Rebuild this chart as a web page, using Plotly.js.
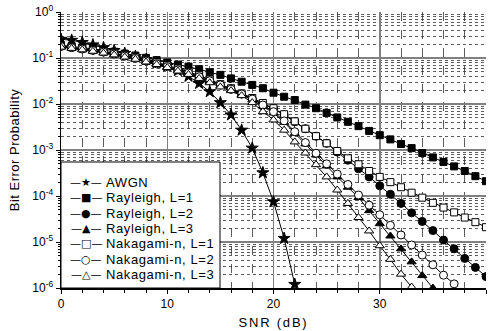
<!DOCTYPE html>
<html><head><meta charset="utf-8">
<script src="https://cdn.plot.ly/plotly-3.0.1.min.js"></script>
<style>html,body{margin:0;padding:0;background:#fff}</style>
</head><body><div id="chart" style="width:492px;height:331px"></div>
<script>
// SNR (dB) points
const snr = [0,1,2,3,4,5,6,7,8,9,10,11,12,13,14,15,16,17,18,19,20,21,22,23,24,25,26,27,28,29,30,31,32,33,34,35,36,37,38,39,40];

const awgn = [0.255,0.243,0.218,0.193,0.168,0.146,0.126,0.108,0.092,0.079,0.067,0.053,0.04,0.028,0.0185,0.0107,0.0058,0.0027,0.0011,0.00032,0.000075,0.000012,0.0000012];

const rayL1 = [0.19,0.18,0.17,0.16,0.148,0.137,0.125,0.113,0.101,0.09,0.08,0.072,0.065,
  0.057,0.049,0.043,0.036,0.0305,0.026,0.022,0.0176,0.0144,0.0122,
  0.0097,0.0081,0.0064,0.0051,0.0041,0.0033,0.0026,0.0021,0.0017,0.00135,
  0.0011,0.00086,0.00069,0.00055,0.00044,0.00035,0.00027,0.00021];

const rayL2 = [0.18,0.17,0.158,0.148,0.136,0.124,0.112,0.1,0.088,0.077,
  0.067,0.057,0.048,0.04,0.033,0.026,0.021,0.0165,0.013,0.0101,
  0.0079,0.0058,0.0041,0.0029,0.002,0.0014,0.0009,0.0006,0.00039,0.00026,
  0.000167,0.000109,0.000069,0.000043,0.000028,0.0000177,0.000011,0.0000071,0.0000044,0.0000028,0.00000177];

const rayL3 = [0.176,0.166,0.155,0.144,0.132,0.12,0.108,0.096,0.084,0.074,0.064,0.054,0.046,0.038,0.031,0.025,0.0205,
  0.016,0.0122,0.009,0.0064,0.004,0.0023,0.00135,0.00078,0.00045,0.00026,0.000155,0.000093,
  0.000048,0.000025,0.0000135,0.0000071,0.0000037,0.00000186,0.000001];

const nakL1 = [0.182,0.172,0.161,0.15,0.139,0.127,0.115,0.103,0.091,0.08,
  0.069,0.059,0.05,0.042,0.034,0.027,0.022,0.017,0.0135,0.0105,
  0.0081,0.006,0.0042,0.0029,0.002,0.0014,0.00095,0.00066,0.00049,0.00035,
  0.00026,0.0002,0.000155,0.000118,0.000092,0.000071,0.000056,0.000044,0.000034,0.000027,0.000021];

const nakL2 = [0.178,0.168,0.157,0.146,0.134,0.122,0.11,0.098,0.086,0.075,0.065,0.055,0.047,0.039,0.032,0.026,0.021,
  0.0165,0.0128,0.0095,0.0068,0.0043,0.0025,0.00145,0.00085,0.0005,0.0003,0.000178,0.000105,
  0.000063,0.000039,0.000023,0.0000142,0.0000086,0.0000052,0.0000032,0.0000019,0.00000123];

const nakL3 = [0.172,0.162,0.151,0.14,0.128,0.117,0.105,0.094,0.082,0.072,0.062,0.052,0.044,0.036,0.029,0.0235,
  0.0195,0.0152,0.0107,0.0068,0.0045,0.0027,0.0015,0.00086,0.00048,0.00026,0.000135,0.000069,0.000034,
  0.0000174,0.0000083,0.0000042,0.000002,0.00000105];

const names = ['AWGN','Rayleigh, L=1','Rayleigh, L=2','Rayleigh, L=3','Nakagami-n, L=1','Nakagami-n, L=2','Nakagami-n, L=3'];
const legendGlyphs = ['\u2605','\u25A0','\u25CF','\u25B2','\u25A1','\u25CB','\u25B3'];
const yTickVals = [1e-6,1e-5,1e-4,1e-3,1e-2,1e-1,1];
const yTickText = ['10<sup>-6</sup>','10<sup>-5</sup>','10<sup>-4</sup>','10<sup>-3</sup>','10<sup>-2</sup>','10<sup>-1</sup>','10<sup>0</sup>'];
const xTickVals = [0,10,20,30,40];

// minor grid positions for the log axis (2..9 within each decade)
const yMinor = [];
for (let e = -6; e < 0; e++) for (let m = 2; m <= 9; m++) yMinor.push(m * Math.pow(10, e));

const series = [
  {y: awgn,  sym: 'star',        fill: 'black', size: 9},
  {y: rayL1, sym: 'square',      fill: 'black', size: 7},
  {y: rayL2, sym: 'circle',      fill: 'black', size: 8},
  {y: rayL3, sym: 'triangle-up', fill: 'black', size: 8},
  {y: nakL1, sym: 'square',      fill: 'white', size: 7},
  {y: nakL2, sym: 'circle',      fill: 'white', size: 8},
  {y: nakL3, sym: 'triangle-up', fill: 'white', size: 8}
];

const traces = series.map((s, i) => ({
  type: 'scatter', mode: 'lines+markers', name: names[i],
  x: snr.slice(0, s.y.length), y: s.y,
  line: {color: 'black', width: 1},
  marker: {symbol: s.sym, size: s.size, color: s.fill, line: {color: 'black', width: 1}}
}));

// Legend box drawn in paper coordinates (plot area 425 x 276 px)
const plotW = 425, plotH = 276;
const legBox = {w: 159, h: 126};
const legFirstRow = 105.3, legRowStep = 15.28; // px above plot bottom, row spacing
const legGlyphX = 24.5, legTextX = 43;          // px from plot left
const spaced = (t, ls) => '<span style="letter-spacing:' + ls + 'px">' + t + '</span>';
const FONT = 'Liberation Sans, Arial, sans-serif';

const annotations = [];
names.forEach((n, i) => {
  const yp = (legFirstRow - i * legRowStep) / plotH;
  annotations.push({xref: 'paper', yref: 'paper', x: legGlyphX / plotW, y: yp,
    xanchor: 'center', yanchor: 'middle', showarrow: false,
    text: '\u2014' + legendGlyphs[i] + '\u2014',
    font: {family: 'DejaVu Sans', size: 11, color: 'black'}});
  annotations.push({xref: 'paper', yref: 'paper', x: legTextX / plotW, y: yp,
    xanchor: 'left', yanchor: 'middle', showarrow: false,
    text: spaced(n, 0.6), font: {family: FONT, size: 13, color: 'black'}});
});

const layout = {
  width: 492, height: 331,
  margin: {l: 61, r: 6, t: 12, b: 43},
  paper_bgcolor: 'white', plot_bgcolor: 'white',
  font: {family: FONT, size: 12, color: 'black'},
  showlegend: false,
  shapes: [{type: 'rect', xref: 'paper', yref: 'paper', x0: 0, y0: 0,
    x1: legBox.w / plotW, y1: legBox.h / plotH, layer: 'above',
    line: {color: 'black', width: 1}, fillcolor: 'white'}],
  annotations: annotations,
  xaxis: {
    range: [0, 40], tickmode: 'array', tickvals: xTickVals,
    tickfont: {family: FONT, size: 12, color: 'black'},
    showline: true, linecolor: 'black', linewidth: 1.5,
    ticks: 'outside', ticklen: 4, tickcolor: 'black',
    showgrid: true, gridcolor: '#808080', gridwidth: 1.5,
    zeroline: false,
    minor: {dtick: 2, tick0: 0, ticks: 'outside', ticklen: 3, tickcolor: 'black',
      showgrid: true, gridcolor: '#333', gridwidth: 0.8, griddash: 'dash'},
    title: {text: spaced('SNR (dB)', 1.8), font: {family: FONT, size: 13, color: 'black'}, standoff: 8}
  },
  yaxis: {
    type: 'log', range: [-6, 0], tickmode: 'array', tickvals: yTickVals, ticktext: yTickText,
    tickfont: {family: FONT, size: 12, color: 'black'},
    showline: true, linecolor: 'black', linewidth: 1.5,
    ticks: 'outside', ticklen: 4, tickcolor: 'black',
    showgrid: true, gridcolor: '#808080', gridwidth: 1.5,
    zeroline: false,
    minor: {tickmode: 'array', tickvals: yMinor, ticks: 'outside', ticklen: 2, tickcolor: 'black',
      showgrid: true, gridcolor: '#333', gridwidth: 0.8, griddash: 'dot'},
    title: {text: spaced('Bit Error Probability', 0.5), font: {family: FONT, size: 13, color: 'black'}, standoff: 9}
  }
};

Plotly.newPlot('chart', traces, layout, {displayModeBar: false, staticPlot: true});
</script>
</body></html>
